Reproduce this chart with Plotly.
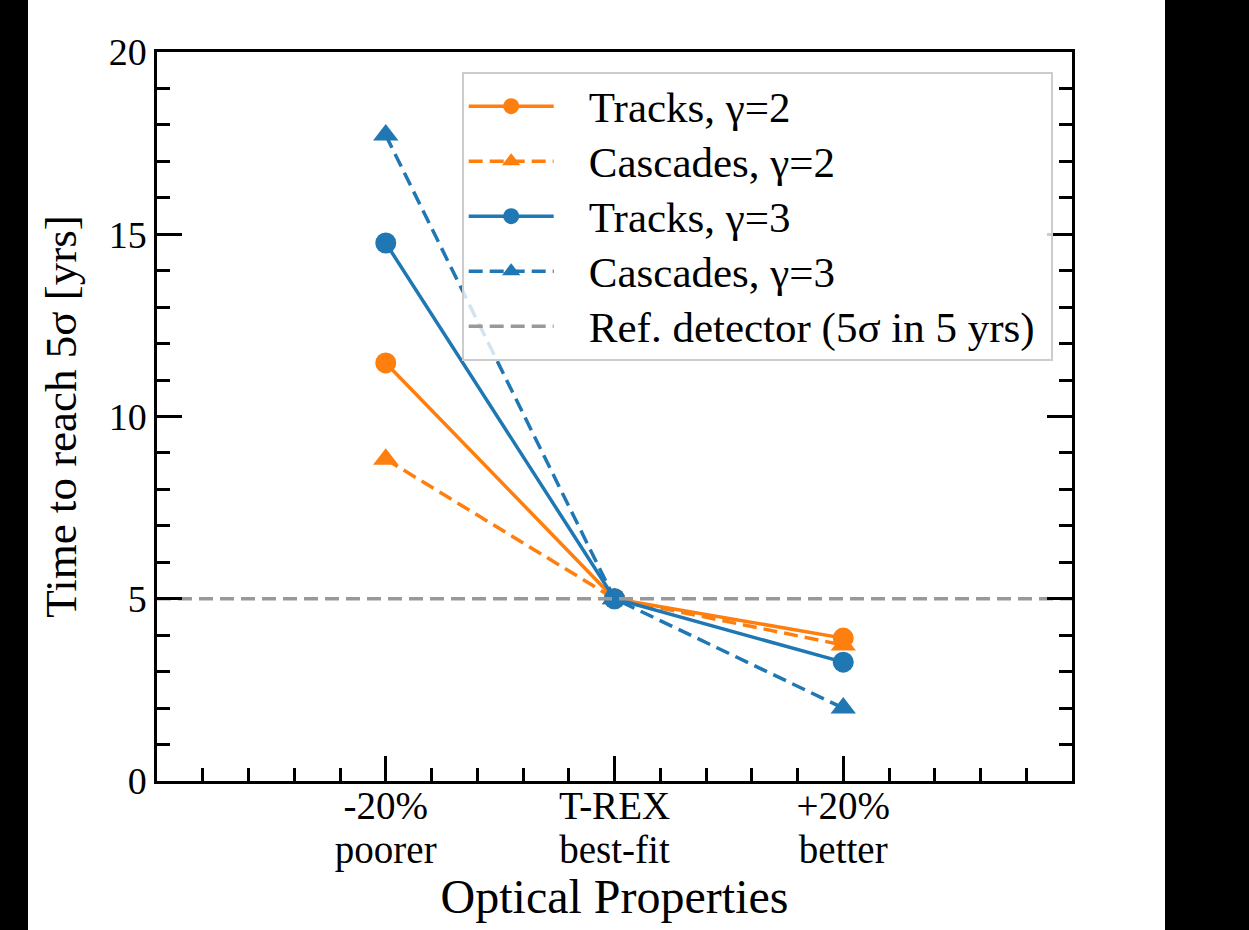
import plotly.graph_objects as go

# ---- data ----
x_vals = [-20, 0, 20]
x_line1 = ["-20%", "T-REX", "+20%"]
x_line2 = ["poorer", "best-fit", "better"]
tracks_g2 = [11.47, 5.0, 3.92]
cascades_g2 = [8.83, 5.0, 3.73]
tracks_g3 = [14.76, 5.0, 3.26]
cascades_g3 = [17.72, 5.0, 2.0]
ref_x = [-40, 40]
ref_y = [5, 5]

ORANGE = "#ff7f0e"
BLUE = "#1f77b4"
GRAY = "#999999"
FONT = "Liberation Serif"
DASH = "14px,7px"
XTICK = 39
LEG = 43

def span(s, size):
    return f"<span style='font-size:{size}px'>{s}</span>"

x_ticktext = [span(a, XTICK) + "<br>" + span(b, XTICK) for a, b in zip(x_line1, x_line2)]

def leg_name(s):
    return span("\u2002\u2009" + s + "\u00a0", LEG)

fig = go.Figure()

series = [
    ("Tracks, γ=2", tracks_g2, ORANGE, "solid", "circle", 21),
    ("Cascades, γ=2", cascades_g2, ORANGE, DASH, "triangle-up", 22),
    ("Tracks, γ=3", tracks_g3, BLUE, "solid", "circle", 21),
    ("Cascades, γ=3", cascades_g3, BLUE, DASH, "triangle-up", 22),
]
for i, (name, ys, col, dash, sym, msize) in enumerate(series):
    fig.add_trace(go.Scatter(
        x=x_vals, y=ys, name=leg_name(name), mode="lines+markers",
        line=dict(color=col, width=3.5, dash=dash),
        marker=dict(symbol=sym, size=msize, color=col, line=dict(width=0)),
        legendgroup=f"g{i}",
    ))

fig.add_trace(go.Scatter(
    x=ref_x, y=ref_y, name=leg_name("Ref. detector (5σ in 5 yrs)"), mode="lines",
    line=dict(color=GRAY, width=3.5, dash=DASH), legendgroup="g5",
))

axis_common = dict(
    showgrid=False, zeroline=False, showline=True, linecolor="black", linewidth=2.5,
    ticks="inside", tickcolor="black", tickwidth=2.5, ticklen=25,
)

fig.update_xaxes(
    **axis_common, range=[-40, 40], tickvals=x_vals, ticktext=x_ticktext,
    tickfont=dict(family=FONT, size=33.5, color="black"),
    ticklabelstandoff=-5,
    mirror=True,
    minor=dict(dtick=4, tick0=0, ticks="inside", ticklen=13, tickwidth=2.5, tickcolor="black"),
    title=dict(text="Optical Properties", font=dict(family=FONT, size=48, color="black"), standoff=4),
)
fig.update_yaxes(
    **axis_common, range=[0, 20], tick0=0, dtick=5, mirror="ticks",
    tickfont=dict(family=FONT, size=38, color="black"),
    minor=dict(dtick=1, ticks="inside", ticklen=13, tickwidth=2.5, tickcolor="black"),
    title=dict(text="Time to reach 5σ [yrs]", font=dict(family=FONT, size=45, color="black"), standoff=18),
)

# black side bars present in the reference picture
for x0, x1 in [(-0.2, (28 - 157) / 915), ((1165 - 157) / 915, 1.25)]:
    fig.add_shape(type="rect", xref="paper", yref="paper", x0=x0, x1=x1, y0=-0.4, y1=1.2,
                  fillcolor="black", line=dict(width=0), layer="below")

fig.update_layout(
    width=1249, height=930,
    margin=dict(l=157, r=177, t=52, b=149),
    paper_bgcolor="white", plot_bgcolor="white",
    font=dict(family=FONT, size=38, color="black"),
    showlegend=True,
    legend=dict(
        x=0.333, y=0.973, xanchor="left", yanchor="top",
        bgcolor="rgba(255,255,255,0.8)", bordercolor="#cccccc", borderwidth=2,
        font=dict(family=FONT, size=40, color="black"),
        traceorder="grouped", tracegroupgap=0, itemwidth=85,
    ),
)

fig.write_html("out.html", config={"displayModeBar": False},
               post_script="document.body.style.margin='0px';")
